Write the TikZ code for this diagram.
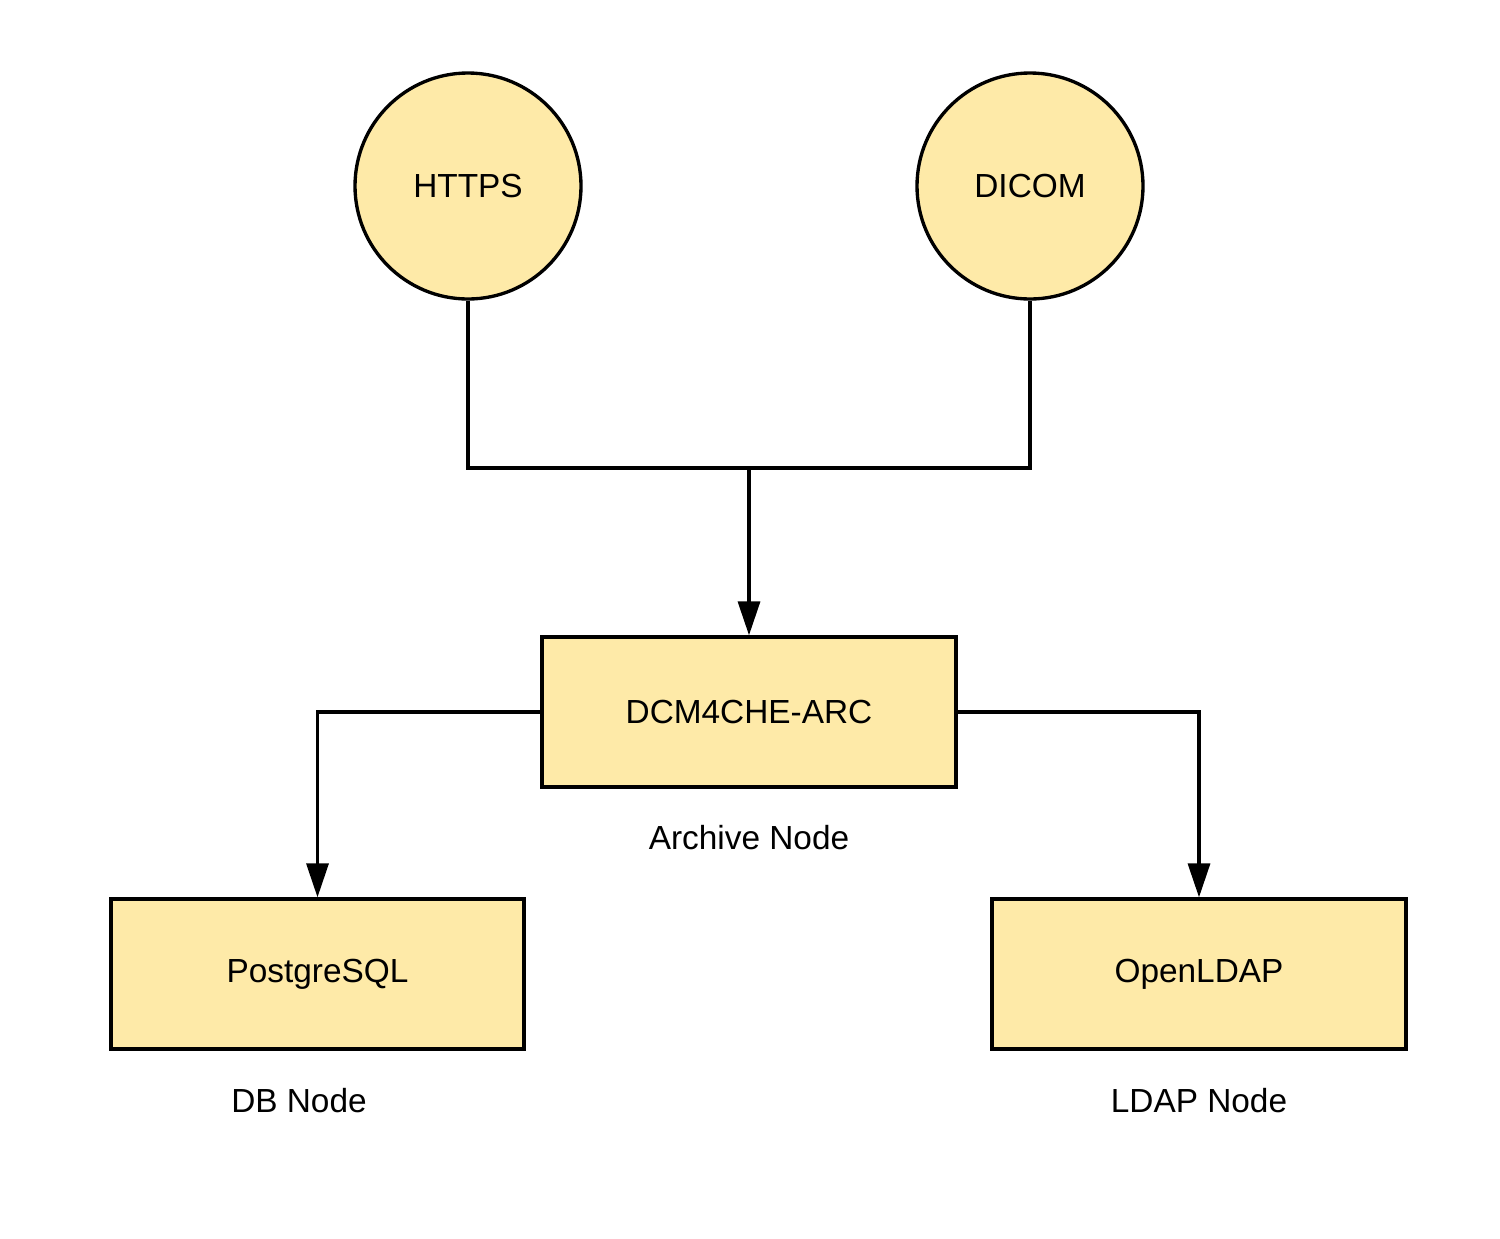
\documentclass[tikz,border=0pt]{standalone}
\usepackage{fontspec}
\setmainfont{Liberation Sans}
\usetikzlibrary{arrows.meta}
\definecolor{boxfill}{RGB}{254,234,168}

\begin{document}
\begin{tikzpicture}[
  every node/.style={font=\fontsize{19}{23}\selectfont},
  proto/.style={circle, draw, line width=1.9pt, fill=boxfill, minimum size=4.52cm, inner sep=0pt},
  server/.style={rectangle, draw, line width=1.9pt, fill=boxfill, minimum width=8.26cm, minimum height=3cm},
  link/.style={line width=1.9pt},
  arrow/.style={link, -{Triangle[width=0.44cm, length=0.68cm]}}
]
\useasboundingbox (0,0) rectangle (30,-24.76);

% Draw protocol circles
\node[proto] (https) at (9.36,-3.72) {HTTPS};
\node[proto] (dicom) at (20.6,-3.72) {DICOM};

% Draw archive, database and ldap boxes
\node[server, minimum width=8.28cm] (arc) at (14.98,-14.24) {DCM4CHE-ARC};
\node[server] (pg) at (6.35,-19.48) {PostgreSQL};
\node[server, minimum width=8.28cm] (ldap) at (23.98,-19.48) {OpenLDAP};

% Captions under the boxes
\node (arclabel) at (14.98,-16.76) {Archive Node};
\node (pglabel) at (5.98,-22.02) {DB Node};
\node (ldaplabel) at (23.98,-22.02) {LDAP Node};

% Draw connectors
\coordinate (join) at (14.98,-9.36);
\draw[link] (https.south) |- (join) -| (dicom.south);
\draw[arrow] (join) -- (arc.north);
\draw[arrow] (arc.west) -| (pg.north);
\draw[arrow] (arc.east) -| (ldap.north);
\end{tikzpicture}
\end{document}
